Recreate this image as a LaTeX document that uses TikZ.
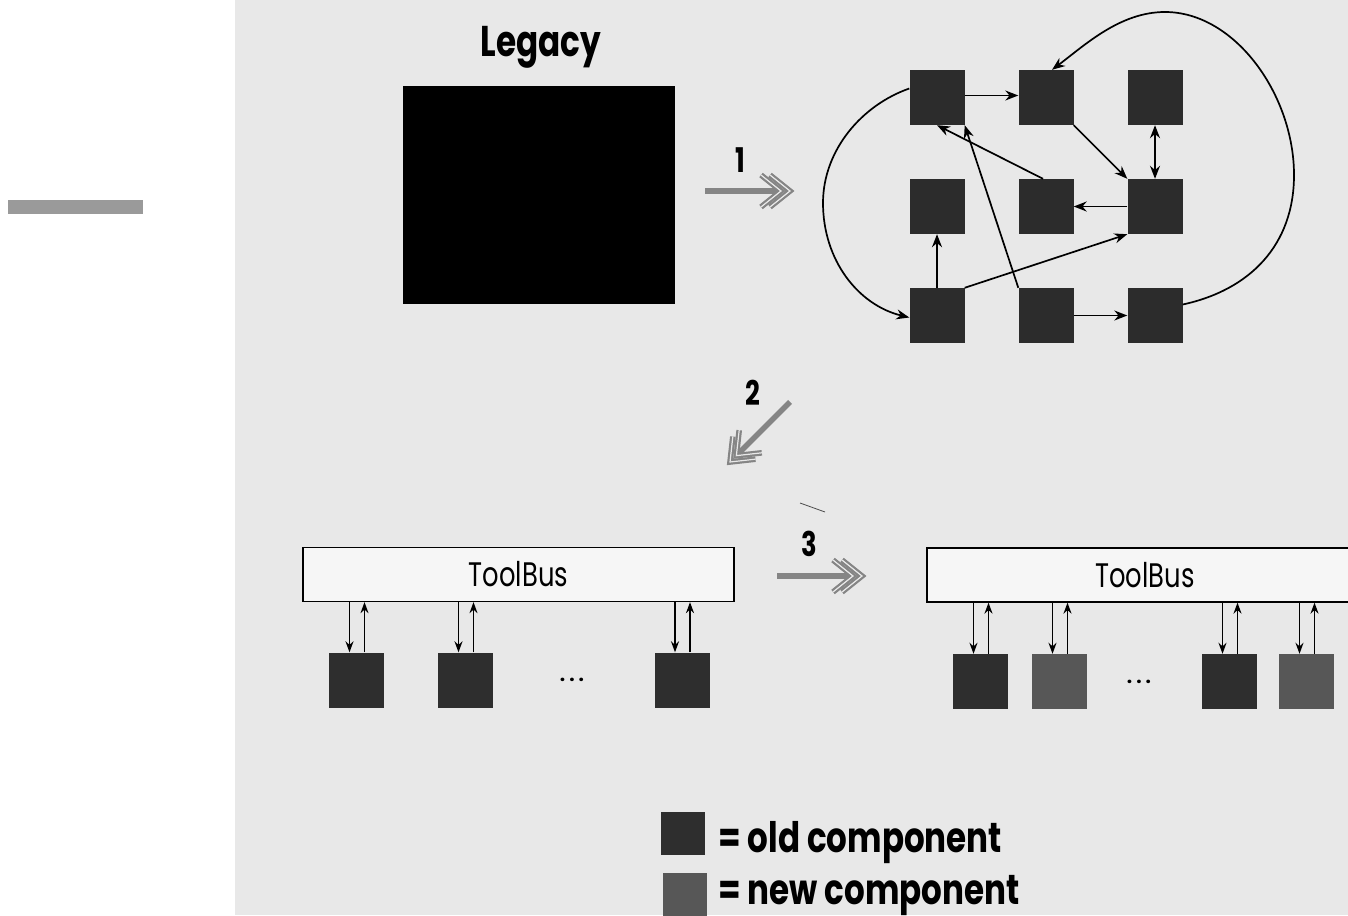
\documentclass[tikz,border=0pt]{standalone}
\usepackage{fontspec}
\usepackage{graphicx}
\setmainfont{Poppins}
\usetikzlibrary{arrows.meta,calc}
\definecolor{paper}{HTML}{E8E8E8}
\definecolor{bargray}{HTML}{9A9A9A}
\definecolor{netc}{HTML}{2C2C2C}
\definecolor{oldc}{HTML}{2E2E2E}
\definecolor{newc}{HTML}{575757}
\definecolor{arrowgray}{HTML}{858585}
\definecolor{busfill}{HTML}{F6F6F6}
\newcommand\condtxt[1]{\scalebox{0.76}[1]{#1}}
\newcommand\condleg[1]{\scalebox{0.775}[1]{#1}}
\tikzset{
  comp/.style={rectangle, inner sep=0pt, minimum size=55pt, fill=netc},
  oldcomp/.style={comp, fill=oldc},
  newcomp/.style={comp, fill=newc},
  netedge/.style={line width=1.7pt, -{Stealth[length=13pt,width=10pt]}},
  netboth/.style={line width=1.7pt, {Stealth[length=13pt,width=10pt]}-{Stealth[length=13pt,width=10pt]}},
  busbox/.style={rectangle, draw=black, line width=1.3pt, fill=busfill, inner sep=0pt, minimum height=54pt,
    font=\fontsize{34pt}{34pt}\selectfont},
  busarrow/.style={line width=1.5pt, -{Stealth[length=11pt,width=8pt]}},
  numshaft/.style={draw=arrowgray, line width=5.5pt},
  numhead/.style={draw=arrowgray, line width=2.2pt, double=paper, double distance=1.2pt},
  numlbl/.style={font=\bfseries\fontsize{34pt}{34pt}\selectfont, inner sep=0pt, anchor=base},
  dots/.style={font=\bfseries\fontsize{19pt}{19pt}\selectfont, inner sep=0pt},
  legtxt/.style={font=\bfseries\fontsize{42pt}{42pt}\selectfont, inner sep=0pt, anchor=base west},
  numarrow/.pic={
    \draw[numshaft] (-85,0) -- (-11,0);
    \draw[numhead] (-29,-16) -- (-9,0) -- (-29,16);
    \draw[numhead] (-20,-16) -- (0,0) -- (-20,16);
  }
}
\begin{document}
\begin{tikzpicture}[x=1pt,y=-1pt]
\useasboundingbox (0,0) rectangle (1348,915);
\clip (0,0) rectangle (1348,915);
\fill[white] (0,0) rectangle (1348,915);
\fill[paper] (235,0) rectangle (1348,915);
\fill[bargray] (8,200) rectangle (143,214);

% Legacy
\node[font=\bfseries\fontsize{43pt}{43pt}\selectfont, inner sep=0pt, anchor=base] (legacylbl) at (541,57) {\condtxt{Legacy}};
\node[rectangle, fill=black, inner sep=0pt, minimum width=272pt, minimum height=218pt] (legacy) at (539,195) {};

% numbered arrows
\node[numlbl] (n1) at (740,172) {\condtxt{1}};
\coordinate (a1tip) at (790,191);
\pic at (a1tip) {numarrow};
\node[numlbl] (n2) at (753,405) {\condtxt{2}};
\coordinate (a2tip) at (730,462);
\pic[rotate=225] at (a2tip) {numarrow};
\node[numlbl] (n3) at (809,556) {\condtxt{3}};
\coordinate (a3tip) at (862,576);
\pic at (a3tip) {numarrow};
\coordinate (specA) at (800,503);
\coordinate (specB) at (825,512);
\draw[line width=0.8pt, black!70] (specA) -- (specB);

% network
\node[comp] (A11) at (937,97.5) {};
\node[comp] (A12) at (1046,97.5) {};
\node[comp] (A13) at (1155,97.5) {};
\node[comp] (A21) at (937,206.5) {};
\node[comp] (A22) at (1046,206.5) {};
\node[comp] (A23) at (1155,206.5) {};
\node[comp] (A31) at (937,315.5) {};
\node[comp] (A32) at (1046,315.5) {};
\node[comp] (A33) at (1155,315.5) {};

\draw[netedge] ($(A11.east)+(0,-2)$) -- ($(A12.west)+(0,-2)$);
\draw[netedge] (A12.south east) -- (A23.north west);
\draw[netboth] (A13.south) -- (A23.north);
\draw[netedge] ($(A22.north)+(-3,0)$) -- (A11.south);
\draw[netedge] (A32.north west) -- (A11.south east);
\draw[netedge] (A23.west) -- (A22.east);
\draw[netedge] (A31.north) -- (A21.south);
\draw[netedge] (A31.north east) -- (A23.south west);
\draw[netedge] (A32.east) -- (A33.west);
\coordinate (rc1) at (1294,175);
\coordinate (rc2) at (1165,12);
\draw[netedge] ($(A33.east)+(0,-11)$) .. controls (1250,290) and (1294,245) .. (rc1)
  .. controls (1294,95) and (1235,12) .. (rc2)
  .. controls (1120,12) and (1085,45) .. ($(A12.north)+(6,0)$);
\coordinate (lc1) at (823,203);
\draw[netedge] ($(A11.west)+(0,-9)$) .. controls (862,105) and (823,150) .. (lc1)
  .. controls (823,260) and (858,305) .. ($(A31.west)+(0,2)$);

% ToolBus left
\node[busbox, minimum width=431pt] (bus1) at (518.5,574.5) {\condtxt{ToolBus}};
\node[oldcomp] (t1) at (356.5,680) {};
\node[oldcomp] (t2) at (465.5,680) {};
\node[oldcomp] (t3) at (682,680) {};
\node[dots] (dl) at (572,680) {.\hspace{4pt}.\hspace{4pt}.};
\foreach \b in {t1,t2,t3}{
  \coordinate (dnpt) at ($(\b.north)+(-7,0)$);
  \coordinate (uppt) at ($(\b.north)+(8,0)$);
  \draw[busarrow] (dnpt |- bus1.south) -- (dnpt);
  \draw[busarrow] (uppt) -- (uppt |- bus1.south);
}

% ToolBus right
\node[busbox, minimum width=436pt] (bus2) at (1145,575) {\condtxt{ToolBus}};
\node[oldcomp] (r1) at (980.5,681.5) {};
\node[newcomp] (r2) at (1059.5,681.5) {};
\node[oldcomp] (r3) at (1229.5,681.5) {};
\node[newcomp] (r4) at (1306.5,681.5) {};
\node[dots] (dr) at (1139,682) {.\hspace{4pt}.\hspace{4pt}.};
\foreach \b in {r1,r2,r3,r4}{
  \coordinate (dnpt) at ($(\b.north)+(-7,0)$);
  \coordinate (uppt) at ($(\b.north)+(8,0)$);
  \draw[busarrow] (dnpt |- bus2.south) -- (dnpt);
  \draw[busarrow] (uppt) -- (uppt |- bus2.south);
}

% legend
\node[rectangle, inner sep=0pt, minimum width=44pt, minimum height=43pt, fill=oldc] (lold) at (683,833.5) {};
\node[rectangle, inner sep=0pt, minimum width=44pt, minimum height=44pt, fill=newc] (lnew) at (685,895) {};
\node[legtxt] (toldtxt) at (718,852) {\condleg{= old component}};
\node[legtxt] (tnewtxt) at (718,904) {\condleg{= new component}};
\end{tikzpicture}
\end{document}
